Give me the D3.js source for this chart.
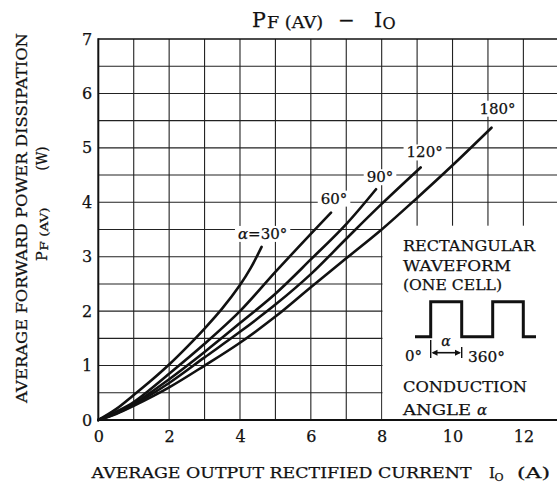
<!DOCTYPE html>
<html><head><meta charset="utf-8">
<script src="https://cdn.jsdelivr.net/npm/d3@7"></script>
<style>
body{margin:0;background:#fff}
text{font-family:"DejaVu Serif","Liberation Serif",serif;fill:#111;stroke:#111;stroke-width:0.25}
</style>
</head><body>
<svg id="c" width="557" height="489"></svg>
<script>
// ---- data ----
const angleLabels = ["α = 30°", "60°", "90°", "120°", "180°"];
const curve30  = [[0,0],[0.5,0.2],[1,0.46],[1.5,0.73],[2,1.02],[2.5,1.34],[3,1.68],[3.5,2.05],[4,2.48],[4.3,2.79],[4.61,3.18]];
const curve60  = [[0,0],[0.5,0.15],[1,0.33],[2,0.85],[3,1.4],[4,2.0],[5,2.72],[6,3.42],[6.57,3.81]];
const curve90  = [[0,0],[0.5,0.13],[1,0.3],[2,0.75],[3,1.25],[4,1.78],[5,2.32],[6,2.95],[7,3.6],[7.84,4.24]];
const curve120 = [[0,0],[0.5,0.12],[1,0.28],[2,0.68],[3,1.15],[4,1.62],[5,2.12],[6,2.68],[7,3.33],[8,3.97],[9.1,4.64]];
const curve180 = [[0,0],[0.5,0.11],[1,0.26],[2,0.6],[3,1.0],[4,1.42],[5,1.9],[6,2.44],[7,2.97],[8,3.5],[9,4.08],[10,4.68],[11.1,5.37]];
const xTicks = [0,2,4,6,8,10,12];
const yTicks = [0,1,2,3,4,5,6,7];
const xGrid = [1,2,3,4,5,6,7,8,9,10,11,12];
const yGrid = [0.5,1,1.5,2,2.5,3,3.5,4,4.5,5,5.5,6,6.5];
const curves = [curve30, curve60, curve90, curve120, curve180];

// ---- layout ----
const svg = d3.select("#c");
const x = d3.scaleLinear().domain([0,13]).range([98.3, 558.8]);
const y = d3.scaleLinear().domain([0,7]).range([420, 39]);
const ink = "#111";

// grid
const g = svg.append("g");
g.selectAll("line.v").data(xGrid).join("line")
  .attr("x1", d=>x(d)).attr("x2", d=>x(d)).attr("y1", y(0)).attr("y2", y(7))
  .attr("stroke", "#222").attr("stroke-width", 1.1);
g.selectAll("line.h").data(yGrid).join("line")
  .attr("x1", x(0)).attr("x2", x(13)).attr("y1", d=>y(d)).attr("y2", d=>y(d))
  .attr("stroke", "#222").attr("stroke-width", 1.1);

// inset white area
svg.append("rect").attr("x", x(8)+0.8).attr("y", y(3.57))
  .attr("width", x(13)-x(8)).attr("height", y(0)-y(3.57)-1).attr("fill", "#fff");

// borders
svg.append("line").attr("x1", x(0)).attr("x2", x(13)).attr("y1", y(7)).attr("y2", y(7)).attr("stroke", ink).attr("stroke-width", 1.6);
svg.append("line").attr("x1", x(0)).attr("x2", x(13)).attr("y1", y(0)).attr("y2", y(0)).attr("stroke", ink).attr("stroke-width", 2);
svg.append("line").attr("x1", x(0)).attr("x2", x(0)).attr("y1", y(0)+1).attr("y2", y(7)-0.8).attr("stroke", ink).attr("stroke-width", 2);

// axes (labels only)
const ax = svg.append("g").attr("transform", `translate(0,${y(0)})`)
  .call(d3.axisBottom(x).tickValues(xTicks).tickSize(0).tickPadding(11).tickFormat(d3.format("d")));
ax.select(".domain").remove();
ax.selectAll("text").attr("font-size", 16).attr("font-family", "DejaVu Serif").attr("fill", ink);
const ay = svg.append("g").attr("transform", `translate(${x(0)},0)`)
  .call(d3.axisLeft(y).tickValues(yTicks).tickSize(0).tickPadding(6).tickFormat(d3.format("d")));
ay.select(".domain").remove();
ay.selectAll("text").attr("font-size", 16).attr("font-family", "DejaVu Serif").attr("fill", ink);

// curve labels (white background)
const labelOffsets = [[1,-8],[3,-9],[4,-7],[4,-10],[6,-14]];
const labG = svg.append("g");
curves.forEach((c, i) => {
  const e = c[c.length-1];
  const cx = x(e[0]) + labelOffsets[i][0], cy = y(e[1]) + labelOffsets[i][1];
  const bg = labG.append("rect").attr("fill", "#fff");
  const t = labG.append("text").attr("x", cx).attr("y", cy).attr("text-anchor", "middle")
    .attr("font-size", 15).attr("fill", ink);
  if (i === 0) {
    t.append("tspan").attr("font-style", "italic").text("α");
    t.append("tspan").text("=30°");
  } else t.text(angleLabels[i]);
  const b = t.node().getBBox();
  bg.attr("x", b.x-3).attr("y", b.y+1).attr("width", b.width+6).attr("height", b.height-2);
});

// curves
const line = d3.line().x(d=>x(d[0])).y(d=>y(d[1])).curve(d3.curveCatmullRom.alpha(0.5));
svg.selectAll("path.curve").data(curves).join("path").attr("class", "curve")
  .attr("d", line).attr("fill", "none").attr("stroke", ink).attr("stroke-width", 2.6).attr("stroke-linecap", "round");

// inset text
const inset = svg.append("g").attr("font-size", 15).attr("fill", ink);
[["RECTANGULAR", 250.5, 132], ["WAVEFORM", 271, 108], ["(ONE CELL)", 290, 99]].forEach(([s, by, w]) => {
  inset.append("text").attr("x", 403).attr("y", by).attr("textLength", w)
    .attr("lengthAdjust", "spacingAndGlyphs").text(s);
});
inset.append("text").attr("x", 403).attr("y", 392).attr("textLength", 124).attr("lengthAdjust", "spacingAndGlyphs").text("CONDUCTION");
inset.append("text").attr("x", 403).attr("y", 414.5).attr("textLength", 68).attr("lengthAdjust", "spacingAndGlyphs").text("ANGLE");
inset.append("text").attr("x", 477).attr("y", 414.5).attr("font-style", "italic").text("α");

// waveform
const wy0 = 336.7, wy1 = 301.7;
svg.append("path").attr("d", `M415,${wy0}H430.7V${wy1}H461.7V${wy0}H492.7V${wy1}H523.3V${wy0}H536`)
  .attr("fill", "none").attr("stroke", ink).attr("stroke-width", 3);
svg.append("line").attr("x1", 430.7).attr("x2", 430.7).attr("y1", 340).attr("y2", 358).attr("stroke", ink).attr("stroke-width", 1.4);
svg.append("line").attr("x1", 461.7).attr("x2", 461.7).attr("y1", 347).attr("y2", 358).attr("stroke", ink).attr("stroke-width", 1.4);
svg.append("line").attr("x1", 433).attr("x2", 459.5).attr("y1", 352.7).attr("y2", 352.7).attr("stroke", ink).attr("stroke-width", 1.6);
svg.append("path").attr("d", "M431.5,352.7l6,-3v6z M461,352.7l-6,-3v6z").attr("fill", ink);
svg.append("text").attr("x", 446).attr("y", 346).attr("text-anchor", "middle").attr("font-size", 14).attr("font-style", "italic").text("α");
svg.append("text").attr("x", 405).attr("y", 361).attr("font-size", 15).text("0°");
svg.append("text").attr("x", 468).attr("y", 362).attr("font-size", 15).attr("textLength", 37).attr("lengthAdjust", "spacingAndGlyphs").text("360°");

// title
const tt = svg.append("g").attr("fill", ink);
tt.append("text").attr("x", 252).attr("y", 27).attr("font-size", 20.5).text("P");
tt.append("text").attr("x", 267).attr("y", 28).attr("font-size", 16).attr("textLength", 56).attr("lengthAdjust", "spacingAndGlyphs").text("F (AV)");
tt.append("text").attr("x", 346.5).attr("y", 27).attr("text-anchor", "middle").attr("font-size", 20).text("−");
tt.append("text").attr("x", 374).attr("y", 27).attr("font-size", 20.5).text("I");
tt.append("text").attr("x", 382.5).attr("y", 29).attr("font-size", 16).text("O");

// x axis title
svg.append("text").attr("x", 91.5).attr("y", 478).attr("font-size", 14).attr("textLength", 380).attr("lengthAdjust", "spacingAndGlyphs").text("AVERAGE OUTPUT RECTIFIED CURRENT");
svg.append("text").attr("x", 489).attr("y", 478).attr("font-size", 15).text("I");
svg.append("text").attr("x", 494.5).attr("y", 481).attr("font-size", 11).text("O");
svg.append("text").attr("x", 517).attr("y", 478).attr("font-size", 14).attr("textLength", 33).attr("lengthAdjust", "spacingAndGlyphs").text("(A)");

// y axis title
svg.append("text").attr("transform", "translate(26.7,403) rotate(-90)").attr("font-size", 14)
  .attr("textLength", 370).attr("lengthAdjust", "spacingAndGlyphs").text("AVERAGE FORWARD POWER DISSIPATION");
svg.append("text").attr("transform", "translate(46.5,261) rotate(-90)").attr("font-size", 14.5).text("P");
svg.append("text").attr("transform", "translate(48,250.5) rotate(-90)").attr("font-size", 11.5).attr("textLength", 43).attr("lengthAdjust", "spacingAndGlyphs").text("F (AV)");
svg.append("text").attr("transform", "translate(46.5,170.5) rotate(-90)").attr("font-size", 14).attr("textLength", 24).attr("lengthAdjust", "spacingAndGlyphs").text("(W)");
</script>
</body></html>
